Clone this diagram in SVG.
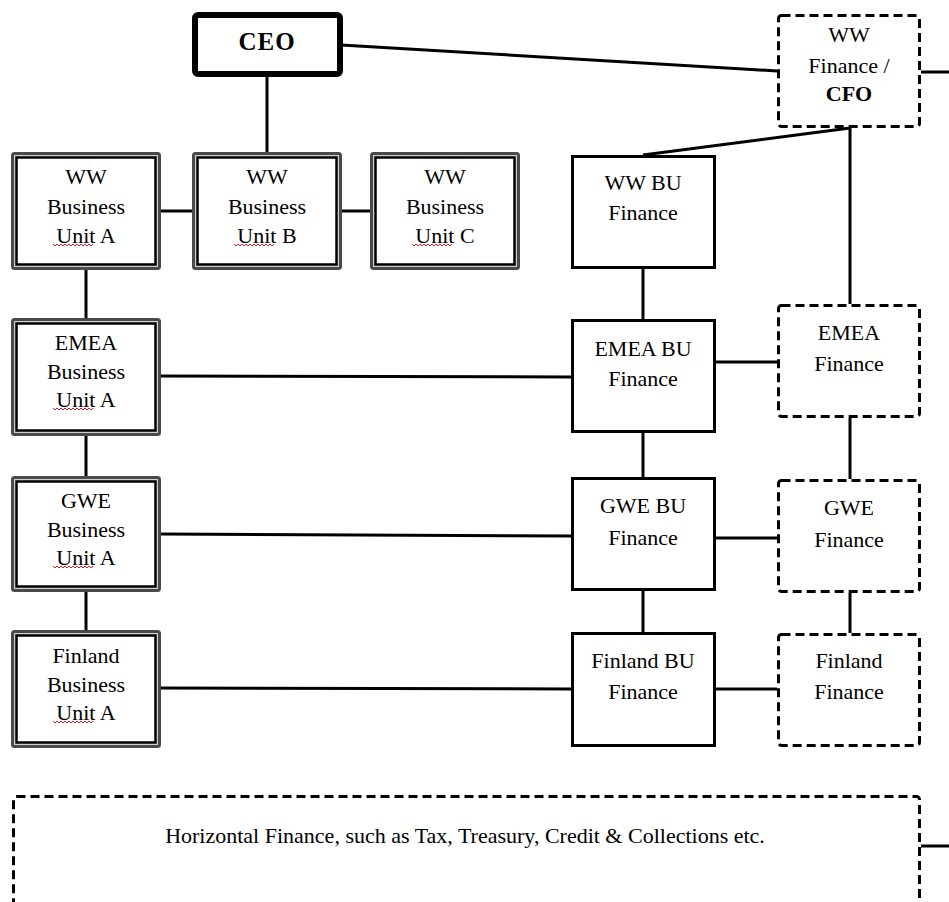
<svg xmlns="http://www.w3.org/2000/svg" xmlns:xlink="http://www.w3.org/1999/xlink" width="949" height="902" viewBox="0 0 949 902">
<style>
  text { font-family: "Liberation Serif", "Times New Roman", serif; font-size: 22px; fill: #000; text-anchor: middle; }
  .b { font-weight: bold; }
  .outer { fill: #d0d0d0; stroke: #4a4a4a; stroke-width: 3; }
  .inner { fill: #fff; stroke: #000; stroke-width: 2.5; }
  .solid { fill: #fff; stroke: #000; stroke-width: 3; }
  .dash { fill: #fff; stroke: #000; stroke-width: 3; stroke-dasharray: 9 5; }
  .con { stroke: #000; stroke-width: 3; fill: none; }
  .sq { stroke: #e02020; stroke-width: 1; fill: none; }
</style>
<defs>
  <path id="squig" class="sq" d="M0,0 l2,2 l2,-2 l2,2 l2,-2 l2,2 l2,-2 l2,2 l2,-2 l2,2 l2,-2 l2,2 l2,-2 l2,2 l2,-2 l2,2 l2,-2 l2,2 l2,-2 l2,2 l2,-2"/>
</defs>
<rect width="949" height="902" fill="#fff"/>

<g id="connectors">
  <line class="con" x1="341" y1="45" x2="777" y2="71"/>
  <line class="con" x1="921" y1="72" x2="949" y2="72"/>
  <line class="con" x1="267" y1="77" x2="267" y2="153"/>
  <line class="con" x1="161" y1="211" x2="192" y2="211"/>
  <line class="con" x1="341" y1="211" x2="370" y2="211"/>
  <line class="con" x1="86" y1="270" x2="86" y2="318"/>
  <line class="con" x1="86" y1="436" x2="86" y2="476"/>
  <line class="con" x1="86" y1="592" x2="86" y2="630"/>
  <line class="con" x1="643" y1="155" x2="850" y2="128"/>
  <line class="con" x1="850" y1="128" x2="850" y2="304"/>
  <line class="con" x1="643" y1="268" x2="643" y2="320"/>
  <line class="con" x1="643" y1="432" x2="643" y2="478"/>
  <line class="con" x1="643" y1="590" x2="643" y2="633"/>
  <line class="con" x1="850" y1="418" x2="850" y2="479"/>
  <line class="con" x1="850" y1="593" x2="850" y2="633"/>
  <line class="con" x1="715" y1="362" x2="777" y2="362"/>
  <line class="con" x1="715" y1="538" x2="777" y2="538"/>
  <line class="con" x1="715" y1="689" x2="777" y2="689"/>
  <line class="con" x1="161" y1="376" x2="572" y2="377"/>
  <line class="con" x1="161" y1="534" x2="572" y2="536"/>
  <line class="con" x1="161" y1="688" x2="572" y2="689"/>
  <line class="con" x1="921" y1="846" x2="949" y2="846"/>
</g>

<g id="ceo">
  <rect x="195" y="15" width="145" height="59" rx="3" fill="#fff" stroke="#000" stroke-width="6"/>
  <text class="b" x="267" y="50" font-size="25" letter-spacing="1" style="font-size:25px">CEO</text>
</g>

<g id="ww-bu-a">
  <rect class="outer" x="12.5" y="153.5" width="147" height="115" rx="2"/>
  <rect class="inner" x="16.5" y="157.5" width="139" height="107"/>
  <text x="86" y="184">WW</text>
  <text x="86" y="214">Business</text>
  <text x="86" y="243">Unit A</text>
  <use xlink:href="#squig" x="53" y="244"/>
</g>
<g id="ww-bu-b">
  <rect class="outer" x="193.5" y="153.5" width="147" height="115" rx="2"/>
  <rect class="inner" x="197.5" y="157.5" width="139" height="107"/>
  <text x="267" y="184">WW</text>
  <text x="267" y="214">Business</text>
  <text x="267" y="243">Unit B</text>
  <use xlink:href="#squig" x="234" y="244"/>
</g>
<g id="ww-bu-c">
  <rect class="outer" x="371.5" y="153.5" width="147" height="115" rx="2"/>
  <rect class="inner" x="375.5" y="157.5" width="139" height="107"/>
  <text x="445" y="184">WW</text>
  <text x="445" y="214">Business</text>
  <text x="445" y="243">Unit C</text>
  <use xlink:href="#squig" x="412" y="244"/>
</g>

<g id="emea-bu-a">
  <rect class="outer" x="12.5" y="319.5" width="147" height="115" rx="2"/>
  <rect class="inner" x="16.5" y="323.5" width="139" height="107"/>
  <text x="86" y="350">EMEA</text>
  <text x="86" y="379">Business</text>
  <text x="86" y="407">Unit A</text>
  <use xlink:href="#squig" x="53" y="408"/>
</g>
<g id="gwe-bu-a">
  <rect class="outer" x="12.5" y="477.5" width="147" height="113" rx="2"/>
  <rect class="inner" x="16.5" y="481.5" width="139" height="105"/>
  <text x="86" y="508">GWE</text>
  <text x="86" y="537">Business</text>
  <text x="86" y="565">Unit A</text>
  <use xlink:href="#squig" x="53" y="566"/>
</g>
<g id="finland-bu-a">
  <rect class="outer" x="12.5" y="631.5" width="147" height="115" rx="2"/>
  <rect class="inner" x="16.5" y="635.5" width="139" height="107"/>
  <text x="86" y="663">Finland</text>
  <text x="86" y="692">Business</text>
  <text x="86" y="720">Unit A</text>
  <use xlink:href="#squig" x="53" y="721"/>
</g>

<g id="ww-bu-finance">
  <rect class="solid" x="572.5" y="156.5" width="142" height="111"/>
  <text x="643" y="190">WW BU</text>
  <text x="643" y="220">Finance</text>
</g>
<g id="emea-bu-finance">
  <rect class="solid" x="572.5" y="320.5" width="142" height="111"/>
  <text x="643" y="356">EMEA BU</text>
  <text x="643" y="386">Finance</text>
</g>
<g id="gwe-bu-finance">
  <rect class="solid" x="572.5" y="478.5" width="142" height="111"/>
  <text x="643" y="513">GWE BU</text>
  <text x="643" y="545">Finance</text>
</g>
<g id="finland-bu-finance">
  <rect class="solid" x="572.5" y="633.5" width="142" height="112"/>
  <text x="643" y="668">Finland BU</text>
  <text x="643" y="699">Finance</text>
</g>

<g id="ww-finance-cfo">
  <rect class="dash" x="778.5" y="15.5" width="141" height="111" rx="3"/>
  <text x="849" y="42">WW</text>
  <text x="849" y="73">Finance /</text>
  <text class="b" x="849" y="101">CFO</text>
</g>
<g id="emea-finance">
  <rect class="dash" x="778.5" y="305.5" width="141" height="111" rx="3"/>
  <text x="849" y="340">EMEA</text>
  <text x="849" y="371">Finance</text>
</g>
<g id="gwe-finance">
  <rect class="dash" x="778.5" y="480.5" width="141" height="111" rx="3"/>
  <text x="849" y="515">GWE</text>
  <text x="849" y="547">Finance</text>
</g>
<g id="finland-finance">
  <rect class="dash" x="778.5" y="634.5" width="141" height="111" rx="3"/>
  <text x="849" y="668">Finland</text>
  <text x="849" y="699">Finance</text>
</g>

<g id="horizontal-finance">
  <rect class="dash" x="13.5" y="796.5" width="906" height="140" rx="3"/>
  <text x="465" y="843">Horizontal Finance, such as Tax, Treasury, Credit &amp; Collections etc.</text>
</g>
</svg>
